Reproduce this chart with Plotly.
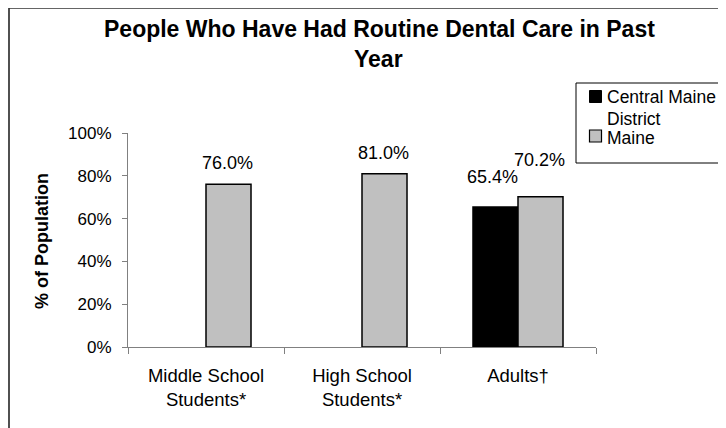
import plotly.graph_objects as go

categories = ["Middle School<br>Students*", "High School<br>Students*", "Adults†"]
series_names = ["Central Maine District", "Maine"]
central_maine = [None, None, 65.4]
maine = [76.0, 81.0, 70.2]
y_ticks = [0, 20, 40, 60, 80, 100]
y_tick_labels = ["0%", "20%", "40%", "60%", "80%", "100%"]

# label placement styling (pixels above bar top)
central_label_lift = [0, 0, 30]
maine_label_lift = [21, 21, 37]

FONT = "Liberation Sans, Arial, sans-serif"
OFF = 8  # page body margin
W, H = 726 - OFF, 428 - OFF
ML, PW = 128 - OFF, 468
MT, PH = 133 - OFF, 214
MR = W - ML - PW
MB = H - MT - PH


def px(x):
    return (x - OFF - ML) / PW


def py(y):
    return (MT + PH - (y - OFF)) / PH


fig = go.Figure()
fig.add_trace(go.Bar(name=series_names[0], x=categories, y=central_maine,
                     marker=dict(color="#000000", line=dict(color="#000000", width=1.5))))
fig.add_trace(go.Bar(name=series_names[1], x=categories, y=maine,
                     marker=dict(color="#C0C0C0", line=dict(color="#000000", width=1.5))))

annotations = []
for vals, lifts, dx in ((central_maine, central_label_lift, -26), (maine, maine_label_lift, 21.5)):
    for c, v, lift in zip(categories, vals, lifts):
        if v is None:
            continue
        annotations.append(dict(x=c, y=v, xref="x", yref="y", text=f"{v:.1f}%",
                                showarrow=False, xshift=dx, yshift=lift,
                                xanchor="center", yanchor="middle",
                                font=dict(family=FONT, size=18, color="#000000")))

annotations.append(dict(x=px(42), y=py(241), xref="paper", yref="paper",
                        xanchor="center", yanchor="middle",
                        text="<b>% of Population</b>", textangle=-90, showarrow=False,
                        font=dict(family=FONT, size=18, color="#000000")))
annotations.append(dict(x=px(379), y=py(29), xref="paper", yref="paper",
                        xanchor="center", yanchor="middle",
                        text="<b>People Who Have Had Routine Dental Care in Past</b>",
                        showarrow=False, font=dict(family=FONT, size=23, color="#000000")))
annotations.append(dict(x=px(378), y=py(59), xref="paper", yref="paper",
                        xanchor="center", yanchor="middle",
                        text="<b>Year</b>",
                        showarrow=False, font=dict(family=FONT, size=23, color="#000000")))

# legend (drawn manually to match layout)
LEG_FONT = dict(family=FONT, size=17.5, color="#000000")
for label, yc in (("Central Maine", 97), ("District", 118.5), ("Maine", 137.5)):
    annotations.append(dict(x=px(605), y=py(yc), xref="paper", yref="paper",
                            xanchor="left", yanchor="middle",
                            text=label, showarrow=False, font=LEG_FONT))

shapes = [
    dict(type="rect", xref="paper", yref="paper",
         x0=px(9), x1=px(760), y0=py(470), y1=py(8),
         line=dict(color="#333333", width=1.7), layer="below"),
    dict(type="rect", xref="paper", yref="paper",
         x0=px(576), x1=px(760), y0=py(163), y1=py(83),
         line=dict(color="#000000", width=1), fillcolor="white", layer="below"),
    dict(type="rect", xref="paper", yref="paper",
         x0=px(589.5), x1=px(601.5), y0=py(102.5), y1=py(90.5),
         line=dict(color="#000000", width=1), fillcolor="#000000"),
    dict(type="rect", xref="paper", yref="paper",
         x0=px(589.5), x1=px(601.5), y0=py(142), y1=py(130),
         line=dict(color="#000000", width=1.2), fillcolor="#C0C0C0"),
]

fig.update_layout(
    width=W, height=H,
    margin=dict(l=ML, r=MR, t=MT, b=MB, pad=0),
    paper_bgcolor="white", plot_bgcolor="white",
    barmode="group", bargap=0.423, bargroupgap=0,
    font=dict(family=FONT, size=17, color="#000000"),
    showlegend=False,
    annotations=annotations,
    shapes=shapes,
)
fig.update_xaxes(showline=True, linecolor="#808080", linewidth=1,
                 ticks="outside", tickson="boundaries", ticklen=6, tickcolor="#808080",
                 ticklabelstandoff=12,
                 showgrid=False, tickfont=dict(family=FONT, size=18.5, color="#000000"))
fig.update_yaxes(range=[0, 100], tickvals=y_ticks, ticktext=y_tick_labels,
                 showline=True, linecolor="#808080", linewidth=1,
                 ticks="outside", ticklen=5, tickcolor="#808080",
                 ticklabelstandoff=7,
                 showgrid=False, zeroline=False,
                 tickfont=dict(family=FONT, size=17, color="#000000"))

fig.write_html("out.html")
